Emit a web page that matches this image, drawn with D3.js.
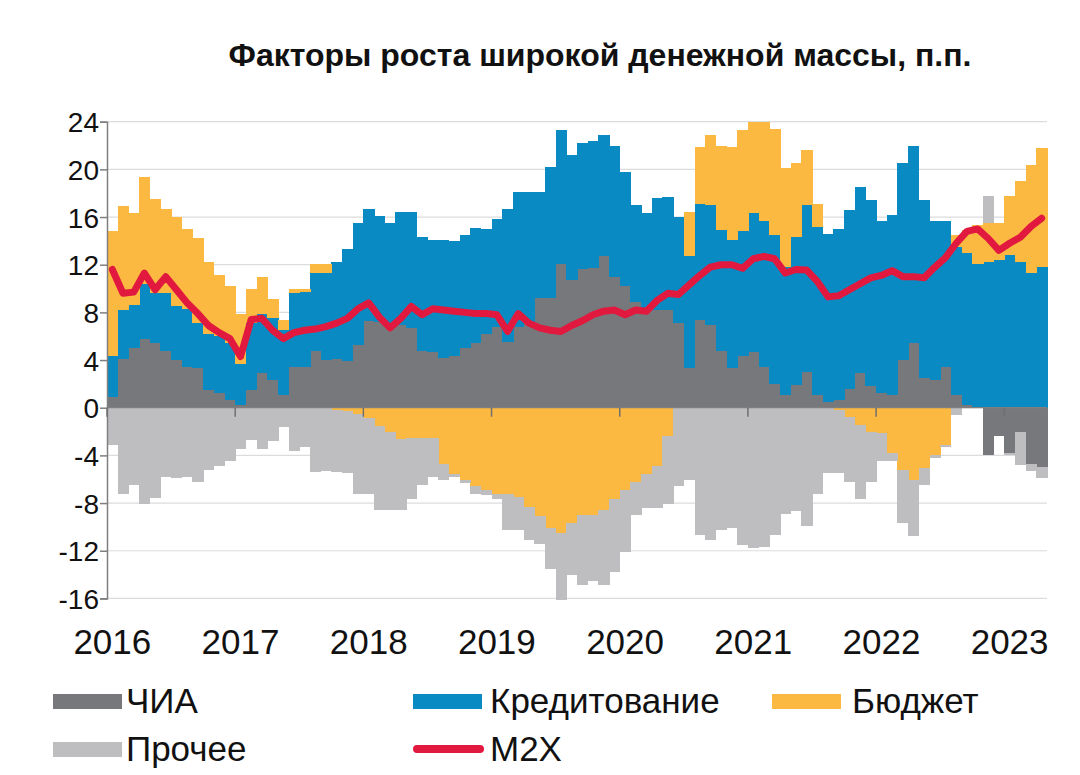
<!DOCTYPE html>
<html><head><meta charset="utf-8">
<script src="https://cdnjs.cloudflare.com/ajax/libs/d3/7.8.5/d3.min.js"></script>
<style>body{margin:0;background:#fff}svg{display:block}text{font-family:"Liberation Sans",Arial,sans-serif}</style>
</head><body>
<svg id="c" width="1080" height="775"></svg>
<script>
const title = "Факторы роста широкой денежной массы, п.п.";
const yearLabels = ["2016","2017","2018","2019","2020","2021","2022","2023"];
const yTicks = [-16,-12,-8,-4,0,4,8,12,16,20,24];
const seriesNames = ["ЧИА","Кредитование","Бюджет","Прочее"];
const lineName = "M2X";
// monthly, Jan 2016 .. Apr 2023
const months = d3.timeMonth.range(new Date(2016,0,1), new Date(2023,4,1));
const chia = [0.9,4.1,5.0,5.8,5.4,4.8,4.0,3.4,3.3,1.5,1.2,0.65,
  0.2,1.5,2.9,2.3,1.1,3.4,3.4,4.8,4.0,4.1,3.9,5.3,
  7.3,7.2,7.1,6.9,6.7,4.8,4.7,4.2,4.3,5.0,5.4,6.2,
  6.8,5.5,6.8,7.1,9.2,9.2,12.1,10.7,11.6,11.7,12.7,11.0,
  10.2,8.9,8.2,8.2,8.2,7.1,3.3,7.4,6.9,4.8,3.3,4.3,
  4.7,3.4,2.0,1.1,1.9,3.0,1.1,0.5,0.65,1.6,2.9,1.8,
  1.2,1.1,4.0,5.4,2.5,2.3,3.4,1.1,0.2,0.1,-4.0,-2.4,
  -3.8,-2.0,-4.7,-5.0];
const credit = [3.4,4.1,3.6,4.6,4.2,4.8,4.5,4.9,3.8,4.7,4.8,4.75,
  3.5,5.6,5.0,5.2,5.4,6.2,6.3,6.5,7.3,8.1,9.4,10.2,
  9.4,8.9,8.4,9.5,9.7,9.5,9.4,9.9,9.7,9.5,9.7,8.8,
  9.0,11.2,11.3,11.0,8.9,11.0,11.2,10.5,10.6,10.7,10.2,11.0,
  9.6,8.1,8.1,9.4,9.5,8.9,9.4,9.7,10.1,10.1,10.8,10.5,
  11.6,12.3,12.5,10.7,12.4,14.0,14.1,14.1,14.35,15.0,15.6,15.6,
  14.5,15.1,16.5,16.55,14.9,13.4,12.3,12.4,12.8,12.0,12.2,12.4,
  12.8,12.2,11.3,11.8];
const budget = [10.5,8.7,7.7,9.0,7.9,7.1,7.5,6.7,7.1,6.0,5.1,4.8,
  4.2,2.9,3.1,1.6,0.9,0.4,0.3,0.8,0.8,-0.2,-0.3,-0.5,
  -0.9,-1.5,-2.0,-2.6,-2.5,-2.5,-2.5,-4.7,-5.6,-6.1,-6.6,-6.9,
  -7.2,-7.2,-7.5,-8.3,-9.1,-10.1,-10.5,-9.7,-9.0,-9.0,-8.6,-7.7,
  -6.9,-6.2,-5.6,-4.9,-2.4,0,3.7,4.8,5.9,7.1,7.8,8.5,
  7.7,8.3,8.9,8.3,6.2,4.6,1.9,0,-0.2,-0.75,-1.45,-2.0,
  -2.15,-3.8,-5.2,-6.1,-5.1,-4.0,-3.1,1.0,1.9,3.2,3.3,3.1,
  5.0,6.8,9.1,10.0];
const other = [-3.1,-7.2,-6.5,-8.1,-7.6,-5.8,-5.9,-5.8,-6.2,-5.2,-4.9,-4.5,
  -3.5,-2.7,-3.5,-2.8,-1.6,-3.6,-3.3,-5.4,-5.3,-5.2,-5.2,-6.7,
  -6.3,-7.1,-6.6,-6.0,-5.2,-4.0,-3.3,-1.4,-0.2,-0.2,-0.6,-0.4,
  -0.5,-3.1,-2.8,-2.8,-2.3,-3.4,-5.6,-4.3,-5.9,-5.5,-6.3,-6.1,
  -5.2,-2.8,-2.8,-3.5,-5.7,-6.6,-6.1,-10.7,-11.1,-10.3,-10.1,-11.5,
  -11.8,-11.7,-10.7,-8.9,-8.7,-9.9,-7.2,-5.5,-5.3,-5.45,-6.25,-4.2,
  -2.35,-0.7,-4.5,-4.7,-1.4,-0.2,-0.2,-0.6,0,0,2.3,0,
  -0.2,-2.8,-0.6,-0.9];
const m2x = [11.6,9.6,9.7,11.3,9.9,11.0,9.9,8.8,7.9,6.9,6.3,5.8,
  4.3,7.4,7.5,6.5,5.8,6.3,6.5,6.6,6.8,7.1,7.5,8.3,
  8.8,7.6,6.7,7.5,8.5,7.8,8.3,8.2,8.1,8.0,7.9,7.9,
  7.8,6.4,7.9,7.1,6.7,6.5,6.4,6.9,7.3,7.8,8.1,8.2,
  7.8,8.2,8.1,9.0,9.6,9.5,10.3,11.1,11.8,12.0,12.0,11.7,
  12.5,12.7,12.5,11.3,11.6,11.55,10.6,9.3,9.4,9.9,10.4,10.9,
  11.1,11.5,11.0,11.0,10.9,11.8,12.6,13.8,14.8,15.0,14.2,13.2,
  13.8,14.3,15.2,15.9];
const colors = {"ЧИА":"#77787b","Кредитование":"#0a8ac2","Бюджет":"#fcb941","Прочее":"#bebec0","M2X":"#e2193f"};

const rows = months.map((m,i)=>({month:m,"ЧИА":chia[i],"Кредитование":credit[i],"Бюджет":budget[i],"Прочее":other[i],m2x:m2x[i]}));

const svg = d3.select("#c");
const L=107, R=1047;
const x = d3.scaleBand().domain(months).range([L,R]).padding(0);
const y = d3.scaleLinear().domain([-16,24]).range([598.4,121.7]);
const bw = x.bandwidth();

// grid
svg.append("g").selectAll("line").data(yTicks).join("line")
  .attr("x1",L).attr("x2",R).attr("y1",d=>y(d)).attr("y2",d=>y(d))
  .attr("stroke","#dcdcdc").attr("stroke-width",1.2);

// stacked bars
const stack = d3.stack().keys(seriesNames).order(d3.stackOrderNone).offset(d3.stackOffsetDiverging);
const layers = stack(rows);
svg.append("g").selectAll("g").data(layers).join("g")
  .attr("fill",d=>colors[d.key])
  .selectAll("rect").data(d=>d).join("rect")
  .attr("x",d=>x(d.data.month)).attr("width",bw+0.6)
  .attr("y",d=>y(Math.max(d[0],d[1]))).attr("height",d=>Math.abs(y(d[0])-y(d[1])))
  .attr("shape-rendering","crispEdges");

// y axis
const yAxis = d3.axisLeft(y).tickValues(yTicks).tickSize(7).tickPadding(1).tickFormat(d=>String(d));
const gy = svg.append("g").attr("transform",`translate(${L},0)`).call(yAxis);
gy.select(".domain").attr("stroke","#7f7f7f").attr("stroke-width",1.5);
gy.selectAll(".tick line").attr("stroke","#7f7f7f").attr("stroke-width",1.5);
gy.selectAll(".tick text").attr("font-size",28).attr("fill","#111").attr("font-family","Liberation Sans, Arial, sans-serif").attr("dy","0.36em");

// x axis at zero with year ticks
const yearStarts = yearLabels.map(s=>new Date(+s,0,1));
const gx = svg.append("g");
gx.append("line").attr("x1",L).attr("x2",R).attr("y1",y(0)).attr("y2",y(0)).attr("stroke","#7f7f7f").attr("stroke-width",1.2);
gx.selectAll("line.t").data(yearStarts).join("line").attr("class","t")
  .attr("x1",d=>x(d)).attr("x2",d=>x(d)).attr("y1",y(0)).attr("y2",y(0)+9)
  .attr("stroke","#6f6f6f").attr("stroke-width",1.5);
gx.selectAll("text").data(yearStarts).join("text")
  .attr("x",(d,i)=>x(d)+bw/2).attr("y",654).attr("text-anchor","middle")
  .attr("font-size",35).attr("fill","#111").text((d,i)=>yearLabels[i]);

// line
const line = d3.line().x(d=>x(d.month)+bw/2).y(d=>y(d.m2x));
svg.append("path").datum(rows).attr("d",line).attr("fill","none")
  .attr("stroke",colors["M2X"]).attr("stroke-width",7).attr("stroke-linejoin","round").attr("stroke-linecap","round");

// title
svg.append("text").attr("x",600).attr("y",66).attr("text-anchor","middle")
  .attr("font-size",32).attr("font-weight","bold").attr("fill","#111").text(title);

// legend
const leg = [
  {k:"ЧИА",sx:53,tx:126,row:0,type:"rect"},
  {k:"Кредитование",sx:413,tx:490,row:0,type:"rect"},
  {k:"Бюджет",sx:772,tx:852,row:0,type:"rect"},
  {k:"Прочее",sx:53,tx:126,row:1,type:"rect"},
  {k:"M2X",sx:413,tx:490,row:1,type:"line"}];
const lg = svg.append("g");
leg.forEach(o=>{
  const cy = o.row===0 ? 701 : 749;
  if(o.type==="rect"){
    lg.append("rect").attr("x",o.sx).attr("y",cy-7).attr("width",69).attr("height",15).attr("fill",colors[o.k]);
  } else {
    lg.append("line").attr("x1",o.sx+4).attr("x2",o.sx+67).attr("y1",cy).attr("y2",cy)
      .attr("stroke",colors[o.k]).attr("stroke-width",8).attr("stroke-linecap","round");
  }
  lg.append("text").attr("x",o.tx).attr("y",cy+12).attr("font-size",35).attr("fill","#111").text(o.k);
});
</script>
</body></html>
